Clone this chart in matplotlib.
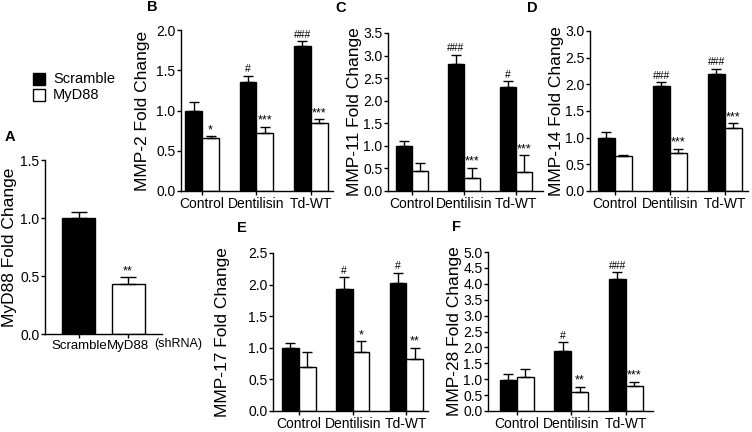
import numpy as np
import matplotlib
matplotlib.use('Agg')
import matplotlib.pyplot as plt
from matplotlib.patches import Rectangle

plt.rcParams['font.family'] = ['Liberation Sans', 'DejaVu Sans']

W, H = 752, 432

groups = ['Control', 'Dentilisin', 'Td-WT']

# panel A: MyD88 knockdown
a_labels = ['Scramble', 'MyD88']
a_vals = [1.0, 0.43]
a_err = [0.055, 0.06]
a_sig = ['', '**']

# panels B-F: Scramble vs MyD88 shRNA
mmp2_scr = [1.0, 1.35, 1.80]
mmp2_scr_err = [0.10, 0.08, 0.06]
mmp2_myd = [0.66, 0.72, 0.85]
mmp2_myd_err = [0.02, 0.08, 0.04]

mmp11_scr = [1.0, 2.82, 2.30]
mmp11_scr_err = [0.10, 0.20, 0.13]
mmp11_myd = [0.45, 0.28, 0.41]
mmp11_myd_err = [0.18, 0.24, 0.38]

mmp14_scr = [1.0, 1.96, 2.20]
mmp14_scr_err = [0.10, 0.08, 0.09]
mmp14_myd = [0.66, 0.72, 1.19]
mmp14_myd_err = [0.02, 0.07, 0.08]

mmp17_scr = [1.0, 1.93, 2.03]
mmp17_scr_err = [0.07, 0.19, 0.16]
mmp17_myd = [0.70, 0.94, 0.83]
mmp17_myd_err = [0.23, 0.16, 0.17]

mmp28_scr = [0.98, 1.90, 4.16]
mmp28_scr_err = [0.18, 0.26, 0.21]
mmp28_myd = [1.06, 0.59, 0.79]
mmp28_myd_err = [0.25, 0.18, 0.13]

fig = plt.figure(figsize=(W / 100, H / 100), dpi=100)


def px_axes(l, t, r, b):
    ax = fig.add_axes([l / W, 1 - b / H, (r - l) / W, (b - t) / H])
    ax.px_box = (l, r)
    return ax


def sig_text(ax, x, y, s):
    fs = 7.5 if '#' in s else 9
    ax.annotate(s, (x, y), xytext=(0, 0 if '*' in s else 1), textcoords='offset points',
                ha='center', va='bottom', fontsize=fs)


def style(ax, ymax, ylabel, label_x):
    for s in ['top', 'right']:
        ax.spines[s].set_visible(False)
    for s in ['left', 'bottom']:
        ax.spines[s].set_linewidth(1.0)
    ax.set_ylim(0, ymax)
    ax.set_yticks(np.arange(0, ymax + 0.01, 0.5))
    ax.set_yticklabels(['%.1f' % v for v in np.arange(0, ymax + 0.01, 0.5)])
    ax.tick_params(axis='both', direction='out', length=3, width=1.0,
                   labelsize=10, pad=1)
    ax.set_ylabel(ylabel, fontsize=12.5, va='center')
    l, r = ax.px_box
    ax.yaxis.set_label_coords((label_x - l) / (r - l), 0.5)


def bar_panel(ax, scr, scr_err, myd, myd_err, scr_sig, myd_sig, ymax, ylabel, xl, label_x):
    x = np.arange(len(groups))
    bw = 0.31
    ax.bar(x - bw / 2, scr, bw, color='black', edgecolor='black', linewidth=1.0,
           yerr=[np.zeros(3), scr_err], error_kw=dict(ecolor='black', elinewidth=1.0,
                                                       capsize=3.3, capthick=1.0))
    ax.bar(x + bw / 2, myd, bw, color='white', edgecolor='black', linewidth=1.0,
           yerr=[np.zeros(3), myd_err], error_kw=dict(ecolor='black', elinewidth=1.0,
                                                       capsize=3.3, capthick=1.0))
    for i in range(3):
        if scr_sig[i]:
            sig_text(ax, x[i] - bw / 2, scr[i] + scr_err[i], scr_sig[i])
        if myd_sig[i]:
            sig_text(ax, x[i] + bw / 2, myd[i] + myd_err[i], myd_sig[i])
    ax.set_xlim(*xl)
    ax.set_xticks(x)
    ax.set_xticklabels(groups)
    style(ax, ymax, ylabel, label_x)


# panel A
axA = px_axes(45, 160, 162, 334)
xa = np.arange(2)
axA.bar(xa, a_vals, 0.67, color=['black', 'white'], edgecolor='black', linewidth=1.0,
        yerr=[np.zeros(2), a_err], error_kw=dict(ecolor='black', elinewidth=1.0,
                                                 capsize=6, capthick=1.0))
for i in range(2):
    if a_sig[i]:
        sig_text(axA, xa[i], a_vals[i] + a_err[i], a_sig[i])
axA.set_xlim(-0.69, 1.69)
axA.set_xticks(xa)
axA.set_xticklabels(a_labels)
style(axA, 1.5, 'MyD88 Fold Change', 10)
axA.tick_params(axis='x', labelsize=9.5)
fig.text(154 / W, 1 - 344 / H, '(shRNA)', fontsize=9, ha='left', va='center')

axB = px_axes(181, 30, 333, 191)
bar_panel(axB, mmp2_scr, mmp2_scr_err, mmp2_myd, mmp2_myd_err,
          ['', '#', '###'], ['*', '***', '***'], 2.0, 'MMP-2 Fold Change', (-0.39, 2.41), 143)

axC = px_axes(388, 33, 543, 191)
bar_panel(axC, mmp11_scr, mmp11_scr_err, mmp11_myd, mmp11_myd_err,
          ['', '###', '#'], ['', '***', '***'], 3.5, 'MMP-11 Fold Change', (-0.46, 2.52), 354)

axD = px_axes(590, 31, 748, 191)
bar_panel(axD, mmp14_scr, mmp14_scr_err, mmp14_myd, mmp14_myd_err,
          ['', '###', '###'], ['', '***', '***'], 3.0, 'MMP-14 Fold Change', (-0.45, 2.42), 556)

axE = px_axes(273, 253, 428, 411)
bar_panel(axE, mmp17_scr, mmp17_scr_err, mmp17_myd, mmp17_myd_err,
          ['', '#', '#'], ['', '*', '**'], 2.5, 'MMP-17 Fold Change', (-0.48, 2.4), 222)

axF = px_axes(488, 252, 653, 411)
bar_panel(axF, mmp28_scr, mmp28_scr_err, mmp28_myd, mmp28_myd_err,
          ['', '#', '###'], ['', '**', '***'], 5.0, 'MMP-28 Fold Change', (-0.53, 2.5), 454)

# panel letters
for lab, px, py in [('A', 5, 137), ('B', 147, 7), ('C', 335, 8), ('D', 527, 8),
                    ('E', 237, 228), ('F', 452, 227)]:
    fig.text(px / W, 1 - py / H, lab, fontsize=10.5, fontweight='bold', ha='left', va='center')

# legend
for i, (name, col) in enumerate([('Scramble', 'black'), ('MyD88', 'white')]):
    y = 79 + i * 16
    fig.patches.append(Rectangle((33 / W, 1 - (y + 6) / H), 12 / W, 12 / H, facecolor=col,
                                 edgecolor='black', linewidth=1.0, transform=fig.transFigure))
    fig.text(53 / W, 1 - y / H, name, fontsize=10.5, ha='left', va='center')

fig.savefig('out.png', dpi=100)
